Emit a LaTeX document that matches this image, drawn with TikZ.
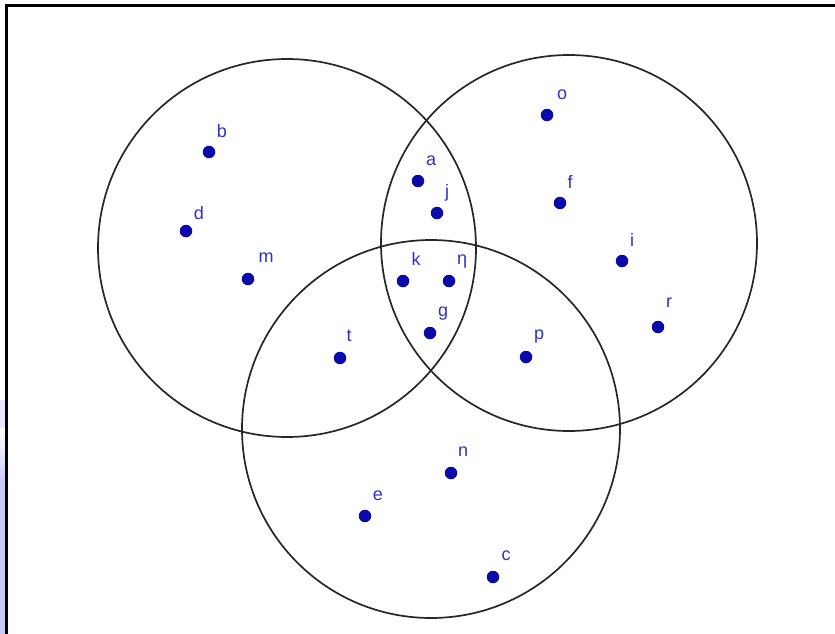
\documentclass[tikz,border=0pt]{standalone}
\usepackage{fontspec}
\setmainfont{Liberation Sans}
\definecolor{dotblue}{RGB}{10,10,170}
\definecolor{lblblue}{RGB}{48,48,200}
\definecolor{stripblue}{RGB}{200,200,250}
\begin{document}
\begin{tikzpicture}[x=1pt,y=-1pt,
  pt/.style={circle,fill=dotblue,inner sep=0pt,minimum size=12.5pt},
  lbl/.style={text=lblblue,font=\fontsize{18}{18}\selectfont,inner sep=0pt},
  ring/.style={draw=black!85,line width=1.7pt}]
\useasboundingbox (0,0) rectangle (835,634);
% left blue strip
\fill[stripblue!40] (0,400) rectangle (5,428);
\shade[top color=white,bottom color=stripblue] (0,428) rectangle (5,483);
\fill[stripblue] (0,483) rectangle (5,634);
% frame (top and left only)
\draw[line width=3pt,black] (835,5.5) -- (6.5,5.5) -- (6.5,634);
% circles
\coordinate (cA) at (287,248);
\coordinate (cB) at (569,243);
\coordinate (cC) at (431,429);
\draw[ring] (cA) circle[radius=189];
\draw[ring] (cB) circle[radius=188];
\draw[ring] (cC) circle[radius=189];
% points
\node[pt] (b) at (209,152) {}; \node[lbl] (lb) at (222,131) {b};
\node[pt] (d) at (186,231) {}; \node[lbl] (ld) at (199,213) {d};
\node[pt] (m) at (248,279) {}; \node[lbl] (lm) at (266,258) {m};
\node[pt] (a) at (418,181) {}; \node[lbl] (la) at (431,161) {a};
\node[pt] (j) at (437,213) {}; \node[lbl] (lj) at (447,193) {j};
\node[pt] (k) at (403,281) {}; \node[lbl] (lk) at (416,259) {k};
\node[pt] (h) at (449,281) {}; \node[lbl] (lh) at (462,262) {η};
\node[pt] (g) at (430,333) {}; \node[lbl] (lg) at (443,314) {g};
\node[pt] (t) at (340,358) {}; \node[lbl] (lt) at (349,336) {t};
\node[pt] (p) at (526,357) {}; \node[lbl] (lp) at (539,337) {p};
\node[pt] (o) at (547,115) {}; \node[lbl] (lo) at (562,95) {o};
\node[pt] (f) at (560,203) {}; \node[lbl] (lf) at (570,182) {f};
\node[pt] (i) at (622,261) {}; \node[lbl] (li) at (632,240) {i};
\node[pt] (r) at (658,327) {}; \node[lbl] (lr) at (669,303) {r};
\node[pt] (n) at (451,473) {}; \node[lbl] (ln) at (463,452) {n};
\node[pt] (e) at (365,516) {}; \node[lbl] (le) at (378,496) {e};
\node[pt] (c) at (493,577) {}; \node[lbl] (lc) at (506,556) {c};
\end{tikzpicture}
\end{document}
